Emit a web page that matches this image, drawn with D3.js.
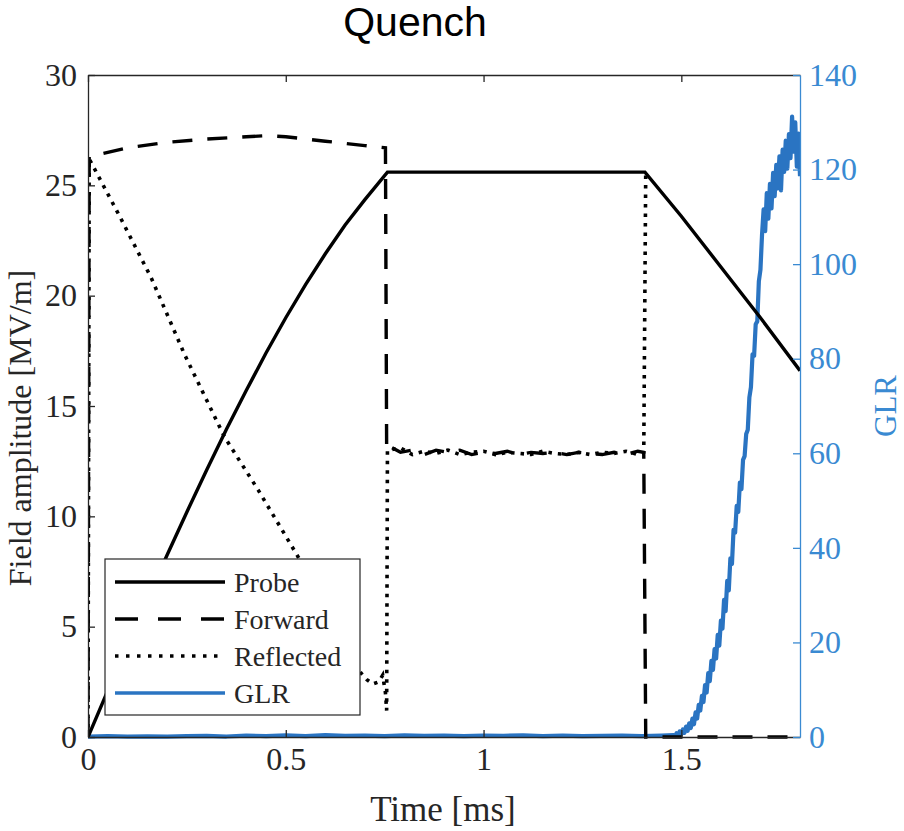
<!DOCTYPE html>
<html>
<head>
<meta charset="utf-8">
<script src="https://cdn.jsdelivr.net/npm/d3@7"></script>
<style>
  body { margin: 0; background: #fff; }
  svg { display: block; }
  .axis text { font-family: "Liberation Serif", "Times New Roman", serif; }
</style>
</head>
<body>
<div id="container"></div>
<script>
'use strict';
(function() {
    // ---- data ----
    var probeTime  = [0, 0.05, 0.1, 0.15, 0.2, 0.25, 0.3, 0.35, 0.4, 0.45, 0.5, 0.55, 0.6, 0.65, 0.7, 0.757, 1.408, 1.5, 1.6, 1.7, 1.8];
    var probeValue = [0, 2.1, 4.2, 6.25, 8.25, 10.2, 12.1, 13.95, 15.7, 17.4, 19.0, 20.5, 21.9, 23.2, 24.35, 25.6, 25.6, 23.6, 21.3, 19.0, 16.6];

    // flat-top samples shared by forward and reflected
    var flatTime = [0.76, 0.79, 0.82, 0.85, 0.88, 0.91, 0.94, 0.97, 1.00, 1.03, 1.06, 1.09, 1.12, 1.15, 1.18, 1.21, 1.24, 1.27, 1.30, 1.33, 1.36, 1.39, 1.405];

    var forwardFillTime  = [0, 0.003, 0.1, 0.2, 0.3, 0.4, 0.45, 0.5, 0.55, 0.6, 0.65, 0.7, 0.752, 0.755];
    var forwardFillValue = [0, 26.3, 26.7, 26.95, 27.1, 27.2, 27.25, 27.2, 27.1, 27.0, 26.9, 26.8, 26.7, 13.0];
    var forwardFlatValue = [13.2, 12.9, 13.0, 12.8, 13.0, 12.9, 13.0, 12.8, 12.9, 12.85, 12.95, 12.8, 12.9, 12.85, 12.9, 12.8, 12.9, 12.85, 12.8, 12.9, 12.8, 12.95, 12.9];
    var forwardTailTime  = [1.41, 1.8];
    var forwardTailValue = [0, 0];

    var reflectedFillTime  = [0, 0.003, 0.08, 0.16, 0.245, 0.345, 0.43, 0.53, 0.6, 0.65, 0.69, 0.705, 0.72, 0.735, 0.745, 0.752, 0.755, 0.757];
    var reflectedFillValue = [0, 26.2, 23.6, 20.8, 17.3, 13.6, 11.2, 8.2, 5.9, 4.3, 2.9, 2.6, 2.4, 2.5, 2.8, 2.0, 1.2, 13.0];
    var reflectedFlatValue = [13.0, 13.1, 12.8, 12.95, 12.85, 13.0, 12.8, 12.9, 12.95, 12.8, 12.9, 12.85, 12.8, 12.95, 12.85, 12.8, 12.9, 12.8, 12.9, 12.85, 12.95, 12.8, 12.9];
    var reflectedTailTime  = [1.41];
    var reflectedTailValue = [25.6];

    var glrTime = [0, 0.05, 0.1, 0.15, 0.2, 0.25, 0.3, 0.35, 0.4, 0.45, 0.5, 0.55, 0.6, 0.65, 0.7, 0.75, 0.8, 0.85, 0.9, 0.95,
        1.0, 1.05, 1.1, 1.15, 1.2, 1.25, 1.3, 1.35, 1.4, 1.45,
        1.480, 1.484, 1.488, 1.492, 1.496, 1.500, 1.504, 1.508, 1.512, 1.516, 1.520, 1.524, 1.528, 1.532, 1.536, 1.540,
        1.544, 1.548, 1.552, 1.556, 1.560, 1.564, 1.568, 1.572, 1.576, 1.580, 1.584, 1.588, 1.592, 1.596, 1.600, 1.604,
        1.608, 1.612, 1.616, 1.620, 1.624, 1.628, 1.632, 1.636, 1.640, 1.644, 1.648, 1.652, 1.656, 1.660, 1.664, 1.668,
        1.672, 1.676, 1.680, 1.684, 1.688, 1.692, 1.696, 1.700, 1.704, 1.708, 1.712, 1.716, 1.720, 1.724, 1.728, 1.732,
        1.736, 1.740, 1.744, 1.748, 1.752, 1.756, 1.760, 1.764, 1.768, 1.772, 1.776, 1.780, 1.784, 1.788, 1.792, 1.796, 1.800];
    var glrValue = [0.1, 0.2, 0.1, 0.15, 0.1, 0.2, 0.25, 0.1, 0.3, 0.2, 0.35, 0.2, 0.4, 0.25, 0.3, 0.2, 0.35, 0.25, 0.3, 0.2,
        0.3, 0.25, 0.35, 0.2, 0.3, 0.2, 0.25, 0.3, 0.2, 0.3,
        0.4, 0.2, 0.8, 0.4, 1.2, 0.6, 1.6, 0.9, 2.2, 1.3, 2.9, 1.9, 3.9, 2.7, 5.2, 3.9,
        6.8, 5.6, 8.7, 7.4, 11.0, 9.4, 13.5, 11.8, 16.1, 14.2, 18.6, 16.6, 21.6, 19.3, 24.6, 22.9,
        29.0, 26.6, 33.0, 31.0, 37.8, 36.6, 43.8, 43.2, 48.9, 47.6, 53.8, 52.4, 58.6, 59.4, 64.1, 65.0,
        71.8, 74.0, 80.9, 80.6, 87.3, 87.9, 96.4, 98.8, 106.2, 111.6, 107.0, 115.0, 109.6, 117.0, 111.8, 119.3,
        114.4, 121.0, 116.0, 122.8, 115.6, 124.2, 119.5, 126.1, 120.2, 127.5, 122.4, 131.2, 123.8, 130.0, 120.6, 127.6, 118.6];

    var leftTicks   = [0, 5, 10, 15, 20, 25, 30];
    var rightTicks  = [0, 20, 40, 60, 80, 100, 120, 140];
    var timeTicks   = [0, 0.5, 1, 1.5];
    var legendNames = ['Probe', 'Forward', 'Reflected', 'GLR'];

    // ---- layout ----
    var W = 904, H = 831;
    var margin = {top: 75, right: 104, bottom: 94, left: 88};
    var width = W - margin.left - margin.right,
        height = H - margin.top - margin.bottom;
    var axisGray = '#262626';
    var blue = '#2a74c2';
    var blueAxis = '#3a8ad2';

    var svg = d3.select('#container').append('svg')
        .attr('width', W)
        .attr('height', H);

    var x = d3.scaleLinear().domain([0, 1.8]).range([0, width]);
    var y = d3.scaleLinear().domain([0, 30]).range([height, 0]);
    var yR = d3.scaleLinear().domain([0, 140]).range([height, 0]);

    svg.append('text')
        .attr('x', 415).attr('y', 36)
        .attr('text-anchor', 'middle')
        .style('font-family', '"Liberation Sans", Arial, sans-serif')
        .style('font-size', '41px')
        .attr('fill', '#000')
        .text('Quench');

    var g = svg.append('g').attr('transform', 'translate(' + margin.left + ',' + margin.top + ')');

    g.append('clipPath').attr('id', 'clip')
        .append('rect').attr('x', 0).attr('y', -2).attr('width', width).attr('height', height + 4);

    function zip(t, v) {
        return t.map(function(d, i) { return {t: d, v: v[i]}; });
    }

    var probe = zip(probeTime, probeValue);
    var forward = zip(forwardFillTime.concat(flatTime, forwardTailTime),
                      forwardFillValue.concat(forwardFlatValue, forwardTailValue));
    var reflected = zip(reflectedFillTime.concat(flatTime, reflectedTailTime),
                        reflectedFillValue.concat(reflectedFlatValue, reflectedTailValue));
    var glr = zip(glrTime, glrValue);

    var lineL = d3.line().x(function(d) { return x(d.t); }).y(function(d) { return y(d.v); });
    var lineR = d3.line().x(function(d) { return x(d.t); }).y(function(d) { return yR(d.v); });

    var plot = g.append('g').attr('clip-path', 'url(#clip)');

    plot.append('path').datum(glr)
        .attr('d', lineR).attr('fill', 'none')
        .attr('stroke', blue).attr('stroke-width', 4.2).attr('stroke-linejoin', 'round');
    plot.append('path').datum(forward)
        .attr('d', lineL).attr('fill', 'none')
        .attr('stroke', '#000').attr('stroke-width', 3.4)
        .attr('stroke-dasharray', '20,15');
    plot.append('path').datum(reflected)
        .attr('d', lineL).attr('fill', 'none')
        .attr('stroke', '#000').attr('stroke-width', 3.6)
        .attr('stroke-dasharray', '3.5,6');
    plot.append('path').datum(probe)
        .attr('d', lineL).attr('fill', 'none')
        .attr('stroke', '#000').attr('stroke-width', 3.4);

    // axes
    var axisL = d3.axisLeft(y).tickValues(leftTicks).tickSizeInner(-7).tickSizeOuter(0).tickPadding(11);
    var axisR = d3.axisRight(yR).tickValues(rightTicks).tickSizeInner(-7).tickSizeOuter(0).tickPadding(9);
    var axisB = d3.axisBottom(x).tickValues(timeTicks).tickSizeInner(-7).tickSizeOuter(0).tickPadding(10)
        .tickFormat(function(d) { return String(d); });
    var axisT = d3.axisTop(x).tickValues(timeTicks).tickSizeInner(-7).tickSizeOuter(0).tickFormat('');

    function style(sel, col) {
        sel.selectAll('path.domain').attr('stroke', col).attr('stroke-width', 1.3);
        sel.selectAll('.tick line').attr('stroke', col).attr('stroke-width', 1.3);
        sel.selectAll('.tick text').attr('fill', col).style('font-size', '32px');
    }

    var gB = g.append('g').attr('class', 'axis').attr('transform', 'translate(0,' + height + ')').call(axisB);
    style(gB, axisGray);
    var gT = g.append('g').attr('class', 'axis').call(axisT);
    style(gT, axisGray);
    var gL = g.append('g').attr('class', 'axis').call(axisL);
    style(gL, axisGray);
    var gR = g.append('g').attr('class', 'axis').attr('transform', 'translate(' + width + ',0)').call(axisR);
    style(gR, blueAxis);

    // axis labels
    g.append('text')
        .attr('x', x(0.9) - 1).attr('y', height + 84)
        .attr('text-anchor', 'middle')
        .style('font-family', '"Liberation Serif", serif').style('font-size', '35px')
        .attr('fill', axisGray)
        .text('Time [ms]');
    g.append('text')
        .attr('transform', 'translate(-57,' + (height / 2 + 22) + ') rotate(-90)')
        .attr('text-anchor', 'middle')
        .style('font-family', '"Liberation Serif", serif').style('font-size', '32px')
        .attr('fill', axisGray)
        .text('Field amplitude [MV/m]');
    g.append('text')
        .attr('transform', 'translate(' + (width + 96) + ',' + (height / 2) + ') rotate(-90)')
        .attr('text-anchor', 'middle')
        .style('font-family', '"Liberation Serif", serif').style('font-size', '31px')
        .attr('fill', blueAxis)
        .text('GLR');

    // legend
    var legend = svg.append('g').attr('transform', 'translate(105,559)');
    legend.append('rect')
        .attr('width', 255).attr('height', 156)
        .attr('fill', '#fff').attr('stroke', axisGray).attr('stroke-width', 1.2);
    var legendStroke = {
        'Probe':     {color: '#000', dash: null},
        'Forward':   {color: '#000', dash: '23,20'},
        'Reflected': {color: '#000', dash: '3.5,7.5'},
        'GLR':       {color: blue, dash: null}
    };
    legendNames.forEach(function(name, i) {
        var ly = 23 + i * 37;
        legend.append('line')
            .attr('x1', 10).attr('x2', 120).attr('y1', ly).attr('y2', ly)
            .attr('stroke', legendStroke[name].color).attr('stroke-width', 3.4)
            .attr('stroke-dasharray', legendStroke[name].dash);
        legend.append('text')
            .attr('x', 129).attr('y', ly + 10)
            .style('font-family', '"Liberation Serif", serif').style('font-size', '28px')
            .attr('fill', axisGray)
            .text(name);
    });
})();
</script>
</body>
</html>
